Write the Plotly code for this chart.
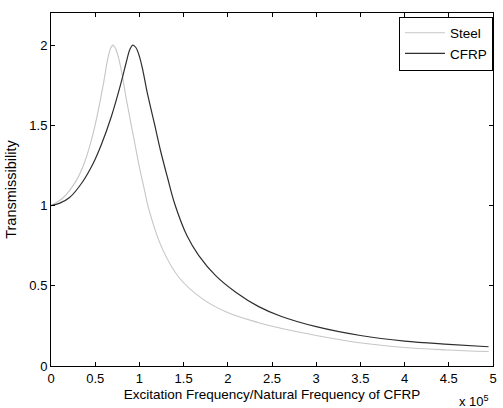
import plotly.graph_objects as go

# Excitation frequency ratio (x 10^5) and transmissibility values
steel_x = [0, 0.14, 0.29, 0.38, 0.49, 0.59, 0.64, 0.675, 0.70, 0.725, 0.76, 0.80, 0.85,
           0.94, 1.0, 1.06, 1.11, 1.26, 1.45, 1.71, 2.01, 2.35, 2.6, 3.0, 3.49, 4.0, 4.48, 4.95]
steel_y = [1.0, 1.05, 1.16, 1.27, 1.48, 1.75, 1.91, 1.98, 2.0, 1.985, 1.93, 1.83, 1.67,
           1.41, 1.24, 1.09, 0.97, 0.73, 0.55, 0.42, 0.33, 0.27, 0.235, 0.19, 0.145, 0.115, 0.10, 0.09]

cfrp_x = [0, 0.1, 0.21, 0.36, 0.475, 0.57, 0.68, 0.79, 0.85, 0.89, 0.925, 0.96, 1.0, 1.04,
          1.09, 1.17, 1.24, 1.32, 1.40, 1.54, 1.67, 1.86, 2.09, 2.35, 2.6, 3.0, 3.5, 4.0, 4.5, 4.95]
cfrp_y = [1.0, 1.015, 1.05, 1.15, 1.26, 1.38, 1.55, 1.76, 1.89, 1.97, 2.0, 1.985, 1.93, 1.84,
          1.70, 1.51, 1.34, 1.17, 1.01, 0.81, 0.69, 0.565, 0.46, 0.37, 0.31, 0.245, 0.19, 0.155, 0.135, 0.12]

x_ticks = [0, 0.5, 1, 1.5, 2, 2.5, 3, 3.5, 4, 4.5, 5]
x_ticktext = ["0", "0.5", "1", "1.5", "2", "2.5", "3", "3.5", "4", "4.5", "5"]
y_ticks = [0, 0.5, 1, 1.5, 2]
y_ticktext = ["0", "0.5", "1", "1.5", "2"]

FONT = "Liberation Sans, Arial, Helvetica, sans-serif"

fig = go.Figure()
fig.add_trace(go.Scatter(x=steel_x, y=steel_y, mode="lines", name="Steel",
                         line=dict(color="#c6c6c6", width=1.1, shape="spline", smoothing=1.0)))
fig.add_trace(go.Scatter(x=cfrp_x, y=cfrp_y, mode="lines", name="CFRP",
                         line=dict(color="#2e2e2e", width=1.2, shape="spline", smoothing=1.0)))

axis_common = dict(showgrid=False, zeroline=False, showline=True, linecolor="black",
                   linewidth=1, mirror="ticks", ticks="inside", ticklen=4,
                   tickcolor="black", tickfont=dict(size=13, color="black", family=FONT))

fig.update_xaxes(range=[0, 5], tickvals=x_ticks, ticktext=x_ticktext,
                 title=dict(text="Excitation Frequency/Natural Frequency of CFRP",
                            font=dict(size=13.5, color="black", family=FONT), standoff=4),
                 **axis_common)
fig.update_yaxes(range=[0, 2.2], tickvals=y_ticks, ticktext=y_ticktext,
                 title=dict(text="Transmissibility",
                            font=dict(size=14.5, color="black", family=FONT), standoff=9),
                 **axis_common)

fig.add_annotation(text="x 10<sup>5</sup>", xref="paper", yref="paper",
                   x=0.995, y=-0.127, xanchor="right", yanchor="bottom", showarrow=False,
                   font=dict(size=13, color="black", family=FONT))

fig.update_layout(
    width=503, height=408,
    margin=dict(l=51, r=6, t=13, b=42),
    paper_bgcolor="white", plot_bgcolor="white",
    font=dict(family=FONT, color="black"),
    legend=dict(x=1.0, y=0.99, xanchor="right", yanchor="top",
                bordercolor="black", borderwidth=1, bgcolor="white",
                font=dict(size=13.5, color="black", family=FONT),
                tracegroupgap=0, itemwidth=40),
)

fig.write_html("out.html")
